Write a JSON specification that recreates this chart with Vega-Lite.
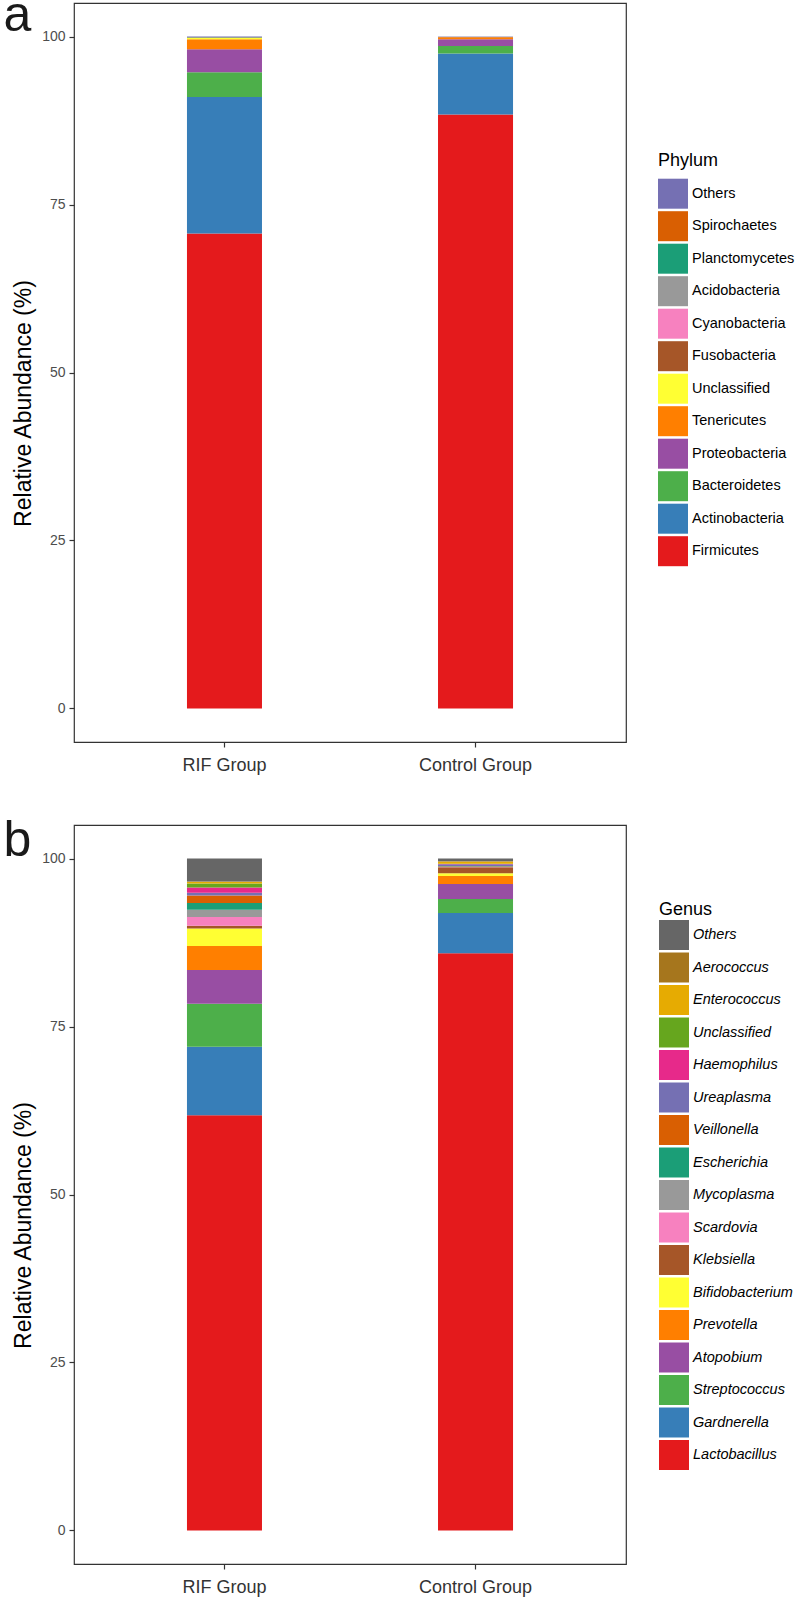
{
  "$schema": "https://vega.github.io/schema/vega-lite/v6.json",
  "padding": {"left": 2, "top": -11, "right": 0, "bottom": 0},
  "background": "white",
  "config": {
    "font": "Liberation Sans",
    "view": {"stroke": "#333333", "strokeWidth": 1.2},
    "axis": {"grid": false, "domain": false},
    "axisX": {"labelAngle": 0, "labelFontSize": 18, "labelColor": "#333333", "tickSize": 5, "tickColor": "#333333", "tickWidth": 1.2, "labelPadding": 9, "titleAngle": 0, "titleAlign": "left", "titleBaseline": "alphabetic", "titleFontSize": 50, "titleFontWeight": "normal", "titleColor": "#1a1a1a", "titleX": -71},
    "axisY": {"labelFontSize": 14, "labelColor": "#4d4d4d", "tickSize": 5, "tickColor": "#333333", "tickWidth": 1.2, "labelPadding": 4, "titleFontSize": 23, "titleFontWeight": "normal", "titleColor": "#000000", "titlePadding": 6, "titleY": 400},
    "legend": {"orient": "none", "padding": 0, "symbolType": "square", "symbolSize": 900, "symbolStrokeWidth": 0, "rowPadding": 2.5, "labelOffset": 4, "labelFontSize": 14.5, "labelColor": "#000000", "titleFontSize": 18, "titleFontWeight": "normal", "titleColor": "#000000", "titleBaseline": "top", "labelLimit": 200}
  },
  "datasets": {
    "phylum": [
      {"group": "RIF Group", "phylum": "Firmicutes", "abundance": 70.7, "rank": 1},
      {"group": "RIF Group", "phylum": "Actinobacteria", "abundance": 20.3, "rank": 2},
      {"group": "RIF Group", "phylum": "Bacteroidetes", "abundance": 3.7, "rank": 3},
      {"group": "RIF Group", "phylum": "Proteobacteria", "abundance": 3.4, "rank": 4},
      {"group": "RIF Group", "phylum": "Tenericutes", "abundance": 1.5, "rank": 5},
      {"group": "RIF Group", "phylum": "Unclassified", "abundance": 0.2, "rank": 6},
      {"group": "RIF Group", "phylum": "Fusobacteria", "abundance": 0.05, "rank": 7},
      {"group": "RIF Group", "phylum": "Cyanobacteria", "abundance": 0.03, "rank": 8},
      {"group": "RIF Group", "phylum": "Acidobacteria", "abundance": 0.03, "rank": 9},
      {"group": "RIF Group", "phylum": "Planctomycetes", "abundance": 0.02, "rank": 10},
      {"group": "RIF Group", "phylum": "Spirochaetes", "abundance": 0.02, "rank": 11},
      {"group": "RIF Group", "phylum": "Others", "abundance": 0.05, "rank": 12},
      {"group": "Control Group", "phylum": "Firmicutes", "abundance": 88.4, "rank": 1},
      {"group": "Control Group", "phylum": "Actinobacteria", "abundance": 9.1, "rank": 2},
      {"group": "Control Group", "phylum": "Bacteroidetes", "abundance": 1.1, "rank": 3},
      {"group": "Control Group", "phylum": "Proteobacteria", "abundance": 1.0, "rank": 4},
      {"group": "Control Group", "phylum": "Tenericutes", "abundance": 0.3, "rank": 5},
      {"group": "Control Group", "phylum": "Unclassified", "abundance": 0.02, "rank": 6},
      {"group": "Control Group", "phylum": "Fusobacteria", "abundance": 0.02, "rank": 7},
      {"group": "Control Group", "phylum": "Cyanobacteria", "abundance": 0.01, "rank": 8},
      {"group": "Control Group", "phylum": "Acidobacteria", "abundance": 0.01, "rank": 9},
      {"group": "Control Group", "phylum": "Planctomycetes", "abundance": 0.01, "rank": 10},
      {"group": "Control Group", "phylum": "Spirochaetes", "abundance": 0.01, "rank": 11},
      {"group": "Control Group", "phylum": "Others", "abundance": 0.02, "rank": 12}
    ],
    "genus": [
      {"group": "RIF Group", "genus": "Lactobacillus", "abundance": 61.8, "rank": 1},
      {"group": "RIF Group", "genus": "Gardnerella", "abundance": 10.2, "rank": 2},
      {"group": "RIF Group", "genus": "Streptococcus", "abundance": 6.4, "rank": 3},
      {"group": "RIF Group", "genus": "Atopobium", "abundance": 5.0, "rank": 4},
      {"group": "RIF Group", "genus": "Prevotella", "abundance": 3.6, "rank": 5},
      {"group": "RIF Group", "genus": "Bifidobacterium", "abundance": 2.6, "rank": 6},
      {"group": "RIF Group", "genus": "Klebsiella", "abundance": 0.4, "rank": 7},
      {"group": "RIF Group", "genus": "Scardovia", "abundance": 1.3, "rank": 8},
      {"group": "RIF Group", "genus": "Mycoplasma", "abundance": 1.1, "rank": 9},
      {"group": "RIF Group", "genus": "Escherichia", "abundance": 1.0, "rank": 10},
      {"group": "RIF Group", "genus": "Veillonella", "abundance": 1.1, "rank": 11},
      {"group": "RIF Group", "genus": "Ureaplasma", "abundance": 0.4, "rank": 12},
      {"group": "RIF Group", "genus": "Haemophilus", "abundance": 0.8, "rank": 13},
      {"group": "RIF Group", "genus": "Unclassified", "abundance": 0.6, "rank": 14},
      {"group": "RIF Group", "genus": "Enterococcus", "abundance": 0.25, "rank": 15},
      {"group": "RIF Group", "genus": "Aerococcus", "abundance": 0.05, "rank": 16},
      {"group": "RIF Group", "genus": "Others", "abundance": 3.4, "rank": 17},
      {"group": "Control Group", "genus": "Lactobacillus", "abundance": 85.9, "rank": 1},
      {"group": "Control Group", "genus": "Gardnerella", "abundance": 6.0, "rank": 2},
      {"group": "Control Group", "genus": "Streptococcus", "abundance": 2.1, "rank": 3},
      {"group": "Control Group", "genus": "Atopobium", "abundance": 2.2, "rank": 4},
      {"group": "Control Group", "genus": "Prevotella", "abundance": 1.2, "rank": 5},
      {"group": "Control Group", "genus": "Bifidobacterium", "abundance": 0.4, "rank": 6},
      {"group": "Control Group", "genus": "Klebsiella", "abundance": 0.9, "rank": 7},
      {"group": "Control Group", "genus": "Scardovia", "abundance": 0.05, "rank": 8},
      {"group": "Control Group", "genus": "Mycoplasma", "abundance": 0.05, "rank": 9},
      {"group": "Control Group", "genus": "Escherichia", "abundance": 0.05, "rank": 10},
      {"group": "Control Group", "genus": "Veillonella", "abundance": 0.05, "rank": 11},
      {"group": "Control Group", "genus": "Ureaplasma", "abundance": 0.25, "rank": 12},
      {"group": "Control Group", "genus": "Haemophilus", "abundance": 0.05, "rank": 13},
      {"group": "Control Group", "genus": "Unclassified", "abundance": 0.05, "rank": 14},
      {"group": "Control Group", "genus": "Enterococcus", "abundance": 0.3, "rank": 15},
      {"group": "Control Group", "genus": "Aerococcus", "abundance": 0.05, "rank": 16},
      {"group": "Control Group", "genus": "Others", "abundance": 0.4, "rank": 17}
    ]
  },
  "spacing": 83,
  "bounds": "flush",
  "resolve": {"scale": {"color": "independent"}, "legend": {"color": "independent"}},
  "vconcat": [
    {
      "width": 552,
      "height": 739,
      "data": {"name": "phylum"},
      "mark": {"type": "bar"},
      "encoding": {
        "x": {"field": "group", "type": "nominal", "sort": ["RIF Group", "Control Group"], "scale": {"paddingInner": 0.7012, "paddingOuter": 0.45}, "axis": {"title": "a", "titleY": -712}},
        "y": {"field": "abundance", "type": "quantitative", "stack": "zero", "scale": {"domain": [-5, 105], "nice": false, "zero": false}, "axis": {"values": [0, 25, 50, 75, 100], "title": "Relative Abundance (%)"}},
        "color": {
          "field": "phylum", "type": "nominal",
          "scale": {
            "domain": ["Others", "Spirochaetes", "Planctomycetes", "Acidobacteria", "Cyanobacteria", "Fusobacteria", "Unclassified", "Tenericutes", "Proteobacteria", "Bacteroidetes", "Actinobacteria", "Firmicutes"],
            "range": ["#7570B3", "#D95F02", "#1B9E77", "#999999", "#F781BF", "#A65628", "#FFFF33", "#FF7F00", "#984EA3", "#4DAF4A", "#377EB8", "#E41A1C"]
          },
          "legend": {"title": "Phylum", "legendX": 584, "legendY": 148.7, "titlePadding": 9}
        },
        "order": {"field": "rank", "type": "quantitative", "sort": "ascending"}
      }
    },
    {
      "width": 552,
      "height": 739,
      "data": {"name": "genus"},
      "mark": {"type": "bar"},
      "encoding": {
        "x": {"field": "group", "type": "nominal", "sort": ["RIF Group", "Control Group"], "scale": {"paddingInner": 0.7012, "paddingOuter": 0.45}, "axis": {"title": "b", "titleY": -709}},
        "y": {"field": "abundance", "type": "quantitative", "stack": "zero", "scale": {"domain": [-5, 105], "nice": false, "zero": false}, "axis": {"values": [0, 25, 50, 75, 100], "title": "Relative Abundance (%)"}},
        "color": {
          "field": "genus", "type": "nominal",
          "scale": {
            "domain": ["Others", "Aerococcus", "Enterococcus", "Unclassified", "Haemophilus", "Ureaplasma", "Veillonella", "Escherichia", "Mycoplasma", "Scardovia", "Klebsiella", "Bifidobacterium", "Prevotella", "Atopobium", "Streptococcus", "Gardnerella", "Lactobacillus"],
            "range": ["#666666", "#A6761D", "#E6AB02", "#66A61E", "#E7298A", "#7570B3", "#D95F02", "#1B9E77", "#999999", "#F781BF", "#A65628", "#FFFF33", "#FF7F00", "#984EA3", "#4DAF4A", "#377EB8", "#E41A1C"]
          },
          "legend": {"title": "Genus", "legendX": 585, "legendY": 76, "titlePadding": 1, "labelFontStyle": "italic"}
        },
        "order": {"field": "rank", "type": "quantitative", "sort": "ascending"}
      }
    }
  ]
}
